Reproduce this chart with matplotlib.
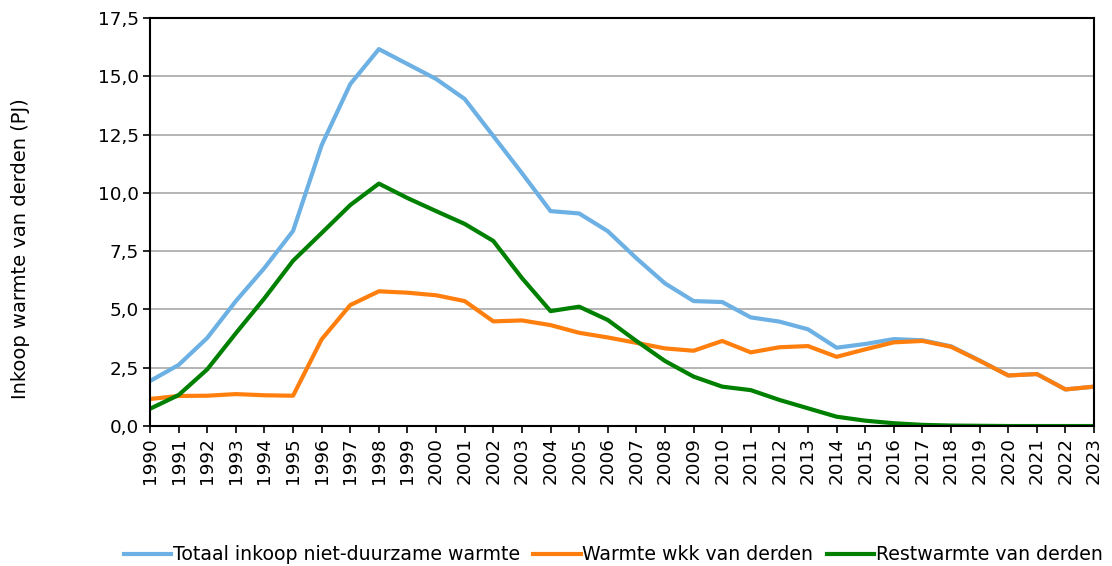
import matplotlib.pyplot as plt
from matplotlib.ticker import FuncFormatter

years = list(range(1990, 2024))

# Totaal inkoop niet-duurzame warmte (PJ)
totaal = [1.93, 2.62, 3.78, 5.36, 6.78, 8.37, 12.05, 14.67, 16.17, 15.53,
          14.89, 14.03, 12.44, 10.85, 9.22, 9.12, 8.36, 7.20, 6.12, 5.36,
          5.32, 4.66, 4.48, 4.15, 3.36, 3.52, 3.73, 3.68, 3.42, 2.81,
          2.17, 2.23, 1.57, 1.69]

# Warmte wkk van derden (PJ)
wkk = [1.16, 1.29, 1.30, 1.37, 1.32, 1.30, 3.72, 5.19, 5.78, 5.72,
       5.61, 5.36, 4.49, 4.53, 4.33, 4.00, 3.80, 3.57, 3.33, 3.23,
       3.65, 3.16, 3.38, 3.43, 2.97, 3.29, 3.59, 3.65, 3.40, 2.80,
       2.17, 2.23, 1.57, 1.69]

# Restwarmte van derden (PJ)
rest = [0.74, 1.33, 2.43, 3.98, 5.48, 7.09, 8.28, 9.48, 10.40, 9.78,
        9.22, 8.67, 7.94, 6.35, 4.93, 5.12, 4.55, 3.65, 2.79, 2.12,
        1.69, 1.54, 1.12, 0.76, 0.40, 0.23, 0.12, 0.05, 0.02, 0.01,
        0.0, 0.0, 0.0, 0.0]

labels = ["Totaal inkoop niet-duurzame warmte", "Warmte wkk van derden",
          "Restwarmte van derden"]
colors = ["#6cb0e4", "#ff7f0e", "#008000"]

plt.rcParams['font.family'] = ['DejaVu Sans']
tick_fs = 13.2
text_fs = 14

fig = plt.figure(figsize=(11.12, 5.66), dpi=100)
ax = fig.add_axes([0.1349, 0.2473, 0.849, 0.7207])

for series, lab, col in zip([totaal, wkk, rest], labels, colors):
    ax.plot(years, series, color=col, lw=3, label=lab, solid_joinstyle='round')

ax.set_xlim(1990, 2023)
ax.set_ylim(0, 17.5)
ax.set_yticks([i * 2.5 for i in range(8)])
ax.yaxis.set_major_formatter(FuncFormatter(lambda v, p: f"{v:.1f}".replace('.', ',')))
ax.set_xticks(years)
ax.set_xticklabels([str(y) for y in years], rotation=90)
ax.tick_params(axis='both', labelsize=tick_fs, direction='out', length=5, width=1.2,
               colors='black', pad=3)
ax.grid(axis='y', color='#a8a8a8', lw=1.2)
ax.set_axisbelow(True)
for sp in ax.spines.values():
    sp.set_linewidth(1.5)
    sp.set_color('black')

ax.set_ylabel("Inkoop warmte van derden (PJ)", fontsize=text_fs)
ax.yaxis.set_label_coords(-0.127, 0.436)

fig.legend(loc='center', bbox_to_anchor=(0.5515, 0.02), ncol=3, frameon=False,
           fontsize=13.6, handlelength=2.5, handletextpad=0.1, columnspacing=0.7)

fig.savefig('out.png', dpi=100)
